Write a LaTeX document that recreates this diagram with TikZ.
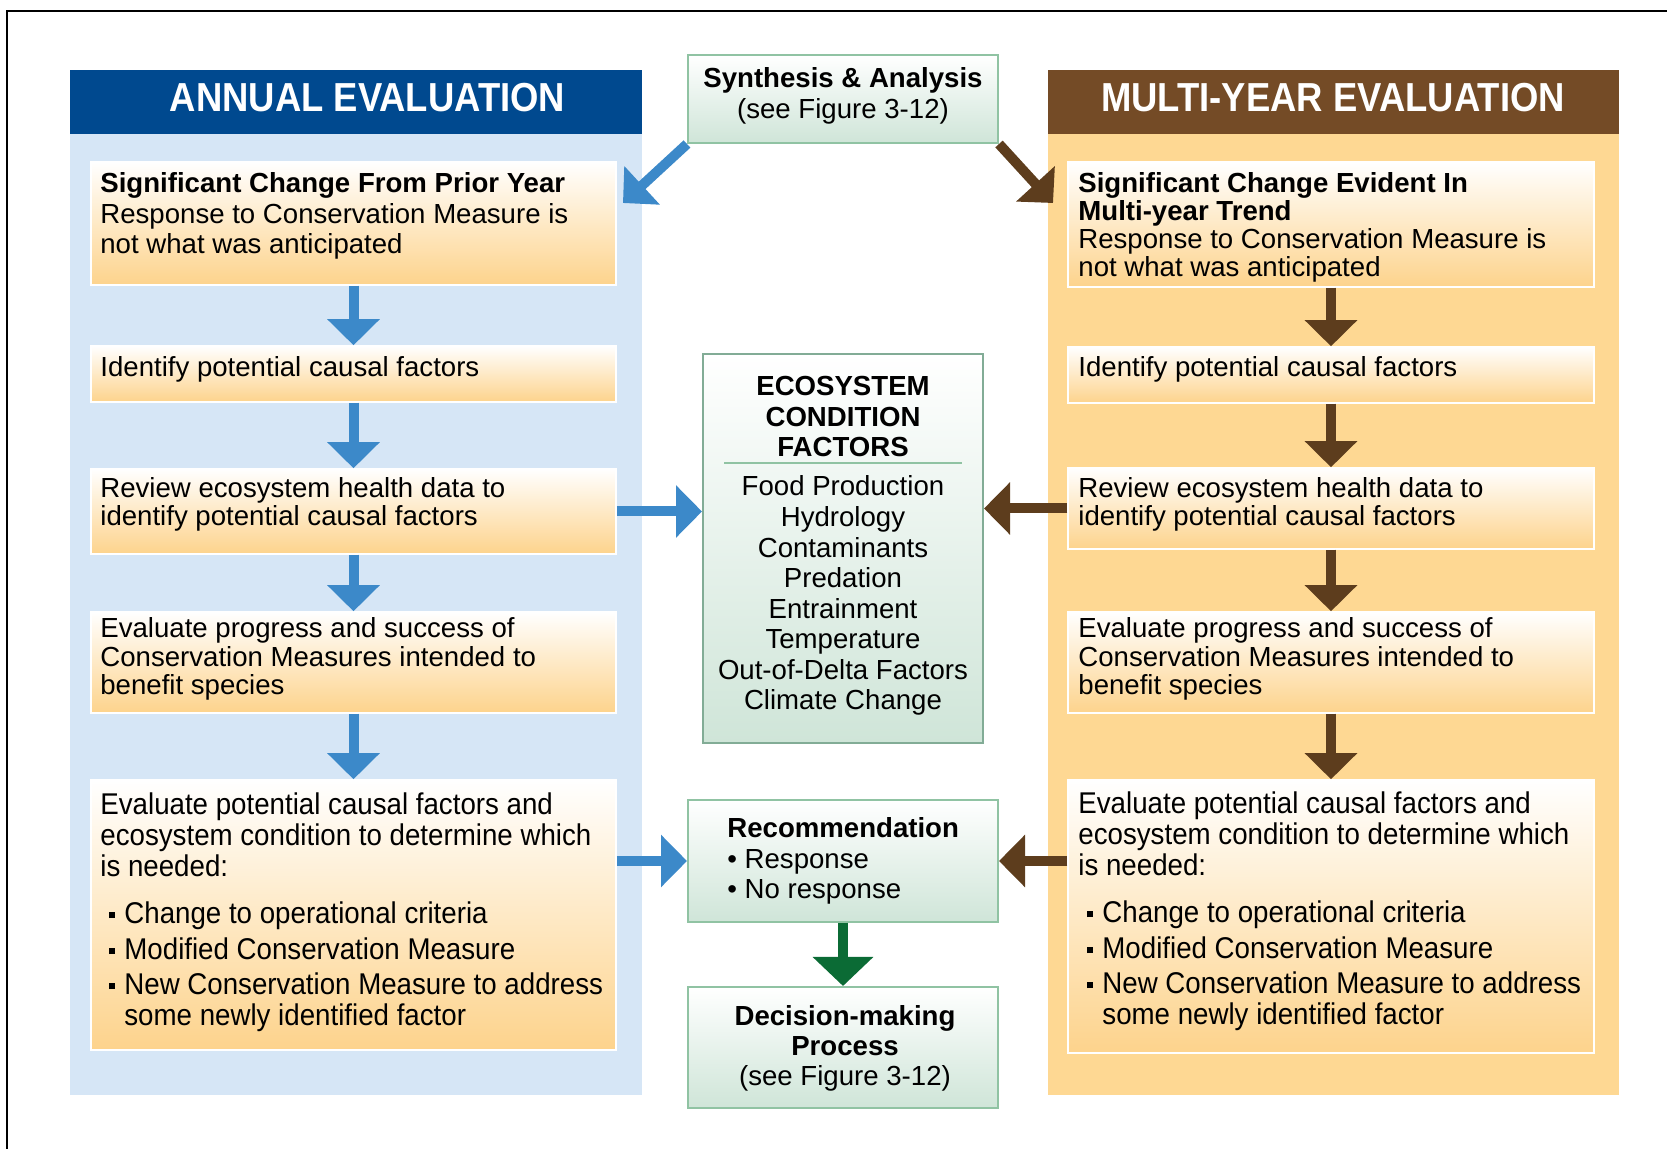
\documentclass[tikz,border=0pt]{standalone}
\usepackage{fontspec}
\setmainfont{Liberation Sans}
\newfontfamily\headfont[FakeStretch=0.9]{Liberation Sans}
\newfontfamily\condfont[FakeStretch=0.923]{Liberation Sans}
\usetikzlibrary{arrows.meta,fit}
\pgfdeclarelayer{background}
\pgfsetlayers{background,main}

\definecolor{annualblue}{HTML}{00498F}
\definecolor{panelblue}{HTML}{D6E6F6}
\definecolor{multibrown}{HTML}{744B26}
\definecolor{panelorange}{HTML}{FED893}
\definecolor{boxorange}{HTML}{FDD38C}
\definecolor{arrowblue}{HTML}{3C89C9}
\definecolor{arrowbrown}{HTML}{5D3D1D}
\definecolor{arrowgreen}{HTML}{0B6B35}
\definecolor{greenline}{HTML}{90C3A3}
\definecolor{greenfill}{HTML}{CFE5D8}
\definecolor{ecoline}{HTML}{82AC96}

\newlength\pxu
\setlength\pxu{0.5pt}
\newcommand\sqbullet{\hspace*{9\pxu}\rule[5\pxu]{6\pxu}{6\pxu}\hspace*{9\pxu}}

\begin{document}
\begin{tikzpicture}
[
  x=0.5pt, y=-0.5pt,
  panel/.style={inner sep=0pt, fill=#1},
  sidebox/.style={inner sep=0pt, draw=white, line width=0.75pt, top color=white, bottom color=boxorange},
  midbox/.style={inner sep=0pt, draw=greenline, line width=1pt, top color=white, bottom color=greenfill},
  title/.style={inner sep=0pt, anchor=base, text=white, font=\headfont\bfseries\fontsize{20.25}{24}\selectfont},
  txt/.style={inner sep=0pt, anchor=base west, align=left, font=\fontsize{13.8}{#1}\selectfont},
  txt/.default=15.5,
  cond/.style={txt, font=\condfont\fontsize{15}{15.5}\selectfont},
  midtxt/.style={inner sep=0pt, anchor=base, align=center, font=\fontsize{13.8}{#1}\selectfont},
  midtxt/.default=15.3,
  bluearrow/.style={draw=arrowblue, line width=5pt, -{Triangle[length=13pt,width=25.5pt]}},
  brownarrow/.style={draw=arrowbrown, line width=5pt, -{Triangle[length=13pt,width=25.5pt]}},
  greenarrow/.style={draw=arrowgreen, line width=5pt, -{Triangle[length=14.5pt,width=29.5pt]}}
]
\useasboundingbox (0,0) rectangle (1667,1149);
\draw[line width=1pt] (1667,11) -- (7,11) -- (7,1149);

\node[midbox, fit={(688,55)(998,143)}] (syn) {};
\node[midtxt=15.5] (synt) at (843,119) {\textbf{Synthesis \& Analysis}\\(see Figure 3-12)};

\coordinate (synL) at (623,203);
\coordinate (synR) at (1053,203);

\begin{pgfonlayer}{background}
\node[panel=panelblue, fit={(70,134)(642,1095)}] (annual) {};
\node[panel=annualblue, fit={(70,70)(642,134)}] (annualhead) {};
\node[panel=panelorange, fit={(1048,134)(1619,1095)}] (multi) {};
\node[panel=multibrown, fit={(1048,70)(1619,134)}] (multihead) {};
\draw[bluearrow] (syn.south west) -- (synL);
\draw[brownarrow] (syn.south east) -- (synR);
\end{pgfonlayer}

\node[title] (annualtitle) at (367.5,112) {ANNUAL EVALUATION};
\node[title] (multititle) at (1333,112) {MULTI-YEAR EVALUATION};

\node[sidebox, fit={(91,162)(616,285)}] (a1) {};
\node[txt=15.25] (a1t) at (100,254) {\textbf{Significant Change From Prior Year}\\Response to Conservation Measure is\\not what was anticipated};

\node[sidebox, fit={(91,346)(616,402)}] (a2) {};
\node[txt] (a2t) at (100,377) {Identify potential causal factors};

\node[sidebox, fit={(91,469)(616,554)}] (a3) {};
\node[txt=14] (a3t) at (100,526) {Review ecosystem health data to\\identify potential causal factors};

\node[sidebox, fit={(91,612)(616,713)}] (a4) {};
\node[txt=14.25] (a4t) at (100,695) {Evaluate progress and success of\\Conservation Measures intended to\\benefit species};

\node[sidebox, fit={(91,780)(616,1050)}] (a5) {};
\node[cond] (a5t) at (100,1025) {Evaluate potential causal factors and\\ecosystem condition to determine which\\is needed:\\[8pt]
\sqbullet Change to operational criteria\\[2.5pt]
\sqbullet Modified Conservation Measure\\[2pt]
\sqbullet New Conservation Measure to address\\
\hspace*{24\pxu}some newly identified factor};

\node[sidebox, fit={(1068,162)(1594,287)}] (m1) {};
\node[txt=14] (m1t) at (1078,277) {\textbf{Significant Change Evident In}\\\textbf{Multi-year Trend}\\Response to Conservation Measure is\\not what was anticipated};

\node[sidebox, fit={(1068,347)(1594,403)}] (m2) {};
\node[txt] (m2t) at (1078,377) {Identify potential causal factors};

\node[sidebox, fit={(1068,468)(1594,549)}] (m3) {};
\node[txt=14] (m3t) at (1078,526) {Review ecosystem health data to\\identify potential causal factors};

\node[sidebox, fit={(1068,612)(1594,713)}] (m4) {};
\node[txt=14.25] (m4t) at (1078,695) {Evaluate progress and success of\\Conservation Measures intended to\\benefit species};

\node[sidebox, fit={(1068,780)(1594,1053)}] (m5) {};
\node[cond] (m5t) at (1078,1024) {Evaluate potential causal factors and\\ecosystem condition to determine which\\is needed:\\[8pt]
\sqbullet Change to operational criteria\\[2.5pt]
\sqbullet Modified Conservation Measure\\[2pt]
\sqbullet New Conservation Measure to address\\
\hspace*{24\pxu}some newly identified factor};

\node[midbox, draw=ecoline, fit={(703,354)(983,743)}] (eco) {};
\node[midtxt=15.25, font=\bfseries\fontsize{13.8}{15.25}\selectfont] (ecohead) at (843,457) {ECOSYSTEM\\CONDITION\\FACTORS};
\draw[draw=greenline, line width=1.25pt] (724,463) -- (962,463);
\node[midtxt=15.29] (ecolist) at (843,710) {Food Production\\Hydrology\\Contaminants\\Predation\\Entrainment\\Temperature\\Out-of-Delta Factors\\Climate Change};

\node[midbox, fit={(688,800)(998,922)}] (rec) {};
\node[txt=15.25] (rect) at (727,899) {\textbf{Recommendation}\\\textbullet{} Response\\\textbullet{} No response};

\node[midbox, fit={(688,987)(998,1108)}] (dec) {};
\node[midtxt=15] (dect) at (845,1085) {\textbf{Decision-making}\\\textbf{Process}\\(see Figure 3-12)};

\draw[bluearrow] (a1) -- (a2);
\draw[bluearrow] (a2) -- (a3);
\draw[bluearrow] (a3) -- (a4);
\draw[bluearrow] (a4) -- (a5);
\draw[brownarrow] (m1) -- (m2);
\draw[brownarrow] (m2) -- (m3);
\draw[brownarrow] (m3) -- (m4);
\draw[brownarrow] (m4) -- (m5);

\draw[bluearrow] (a3.east) -- (a3.east -| eco.west);
\draw[brownarrow] (m3.west) -- (m3.west -| eco.east);
\draw[bluearrow] (a5.east |- rec.west) -- (rec.west);
\draw[brownarrow] (m5.west |- rec.east) -- (rec.east);
\draw[greenarrow] (rec) -- (dec);

\end{tikzpicture}
\end{document}
